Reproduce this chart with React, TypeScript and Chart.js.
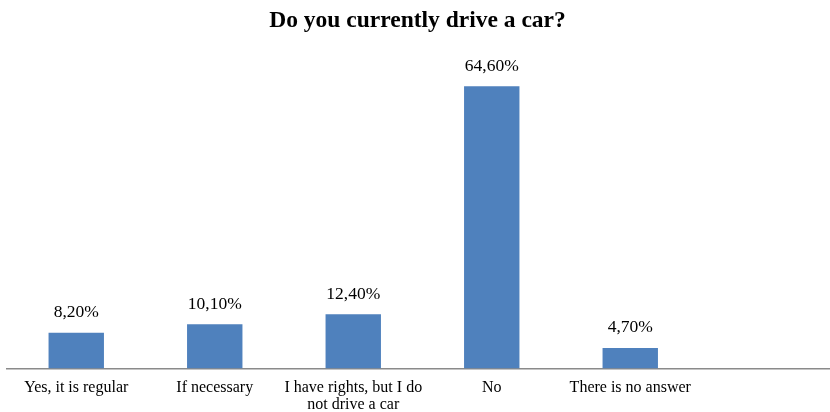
import React, { useEffect, useRef } from "react";
import { Chart, registerables } from "chart.js";

Chart.register(...registerables);

const TITLE = "Do you currently drive a car?";
const categories: (string | string[])[] = [
  "Yes, it is regular",
  "If necessary",
  ["I have rights, but I do", "not drive a car"],
  "No",
  "There is no answer",
  "",
];
const values: (number | null)[] = [8.2, 10.1, 12.4, 64.6, 4.7, null];
const Y_MAX = 70;

const FONT = "'Liberation Serif', 'Times New Roman', serif";

const valueLabels = {
  id: "valueLabels",
  afterDatasetsDraw(chart: any) {
    const ctx = chart.ctx;
    const meta = chart.getDatasetMeta(0);
    ctx.save();
    ctx.font = `17.5px ${FONT}`;
    ctx.fillStyle = "#000";
    ctx.textAlign = "center";
    ctx.textBaseline = "alphabetic";
    meta.data.forEach((bar: any, i: number) => {
      const v = values[i];
      if (v === null || v === undefined) return;
      const txt = v.toFixed(2).replace(".", ",") + "%";
      ctx.fillText(txt, bar.x, bar.y - 15.5);
    });
    ctx.restore();
  },
};

const titlePlugin = {
  id: "customTitle",
  afterDraw(chart: any) {
    const ctx = chart.ctx;
    ctx.save();
    ctx.font = `bold 23.5px ${FONT}`;
    ctx.fillStyle = "#000";
    ctx.textAlign = "center";
    ctx.textBaseline = "alphabetic";
    ctx.fillText(TITLE, 417.5, 27);
    ctx.restore();
  },
};

export default function App() {
  const ref = useRef<HTMLCanvasElement | null>(null);
  useEffect(() => {
    if (!ref.current) return;
    const chart = new Chart(ref.current, {
      type: "bar",
      data: {
        labels: categories,
        datasets: [
          {
            data: values,
            backgroundColor: "#4F81BD",
            borderWidth: 0,
            categoryPercentage: 0.4,
            barPercentage: 1.0,
          },
        ],
      },
      options: {
        responsive: false,
        animation: false,
        layout: { padding: { left: 7, right: 2, top: 62.6, bottom: 0.5 } },
        plugins: {
          legend: { display: false },
          tooltip: { enabled: false },
          title: { display: false },
        },
        scales: {
          x: {
            grid: { display: false, drawTicks: false },
            border: { display: true, color: "#8a8a8a", width: 1.5 },
            ticks: {
              color: "#000",
              font: { family: FONT, size: 16, lineHeight: 17 / 16 },
              padding: 10.5,
              maxRotation: 0,
              autoSkip: false,
            },
          },
          y: {
            display: false,
            min: 0,
            max: Y_MAX,
          },
        },
      },
      plugins: [valueLabels, titlePlugin],
    });
    return () => chart.destroy();
  }, []);
  return (
    <div
      style={{
        position: "fixed",
        left: 0,
        top: 0,
        width: 830,
        height: 412,
        overflow: "hidden",
        background: "#fff",
      }}
    >
      <canvas ref={ref} width={840} height={424} style={{ width: 840, height: 424, display: "block" }} />
    </div>
  );
}
